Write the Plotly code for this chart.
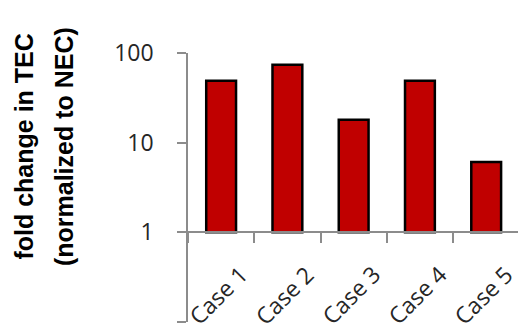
import plotly.graph_objects as go

# Fold change of TEC relative to NEC for each case
cases = ["Case 1", "Case 2", "Case 3", "Case 4", "Case 5"]
fold_change = [49, 74, 18, 49, 6.1]
y_ticks = [0.1, 1, 10, 100]
y_tick_text = ["0.1", "1", "10", "100"]

baseline = 1  # bars rise from the fold-change = 1 line

axis_grey = "#8c8c8c"
text_col = "#262626"
tick_font = dict(family="Open Sans", size=23, color=text_col)
label_font = dict(family="Open Sans", size=23, color=text_col)

fig = go.Figure()
fig.add_trace(go.Bar(
    x=cases,
    y=[v - baseline for v in fold_change],
    base=baseline,
    width=0.45,
    marker=dict(color="#C00000", line=dict(color="#000000", width=2.5)),
    hoverinfo="skip",
))

# Category labels set diagonally below the baseline axis
annotations = []
for name in cases:
    annotations.append(dict(
        text=name, x=name, xref="x", y=0.1, yref="paper",
        xanchor="center", yanchor="middle", textangle=-45,
        showarrow=False, xshift=-3, font=label_font,
    ))

# Two-line y-axis title
title_font = dict(family="Liberation Sans", size=25, color="#000000")
annotations.append(dict(
    text="<b>fold change in TEC</b>", x=-0.4955, xref="paper",
    y=0.654, yref="paper", xanchor="center", yanchor="middle",
    textangle=-90, showarrow=False, font=title_font,
))
annotations.append(dict(
    text="<b>(normalized to NEC)</b>", x=-0.3758, xref="paper",
    y=0.654, yref="paper", xanchor="center", yanchor="middle",
    textangle=-90, showarrow=False, font=title_font,
))

fig.update_layout(
    width=518, height=335,
    margin=dict(l=188, r=0, t=53, b=13),
    paper_bgcolor="white", plot_bgcolor="white",
    showlegend=False,
    annotations=annotations,
    xaxis=dict(
        type="category", range=[-0.5, 4.48],
        anchor="free", position=1 / 3,
        showline=True, linecolor=axis_grey, linewidth=1.5,
        ticks="outside", tickson="boundaries", ticklen=10,
        tickcolor=axis_grey, tickwidth=1.5,
        showticklabels=False, showgrid=False, zeroline=False,
    ),
    yaxis=dict(
        type="log", range=[-1, 2],
        tickvals=y_ticks, ticktext=y_tick_text,
        showline=True, linecolor=axis_grey, linewidth=1.5,
        ticks="outside", ticklen=9, tickcolor=axis_grey, tickwidth=1.5,
        ticklabelstandoff=19,
        tickfont=tick_font, showgrid=False, zeroline=False,
    ),
)

fig.write_html("out.html")
